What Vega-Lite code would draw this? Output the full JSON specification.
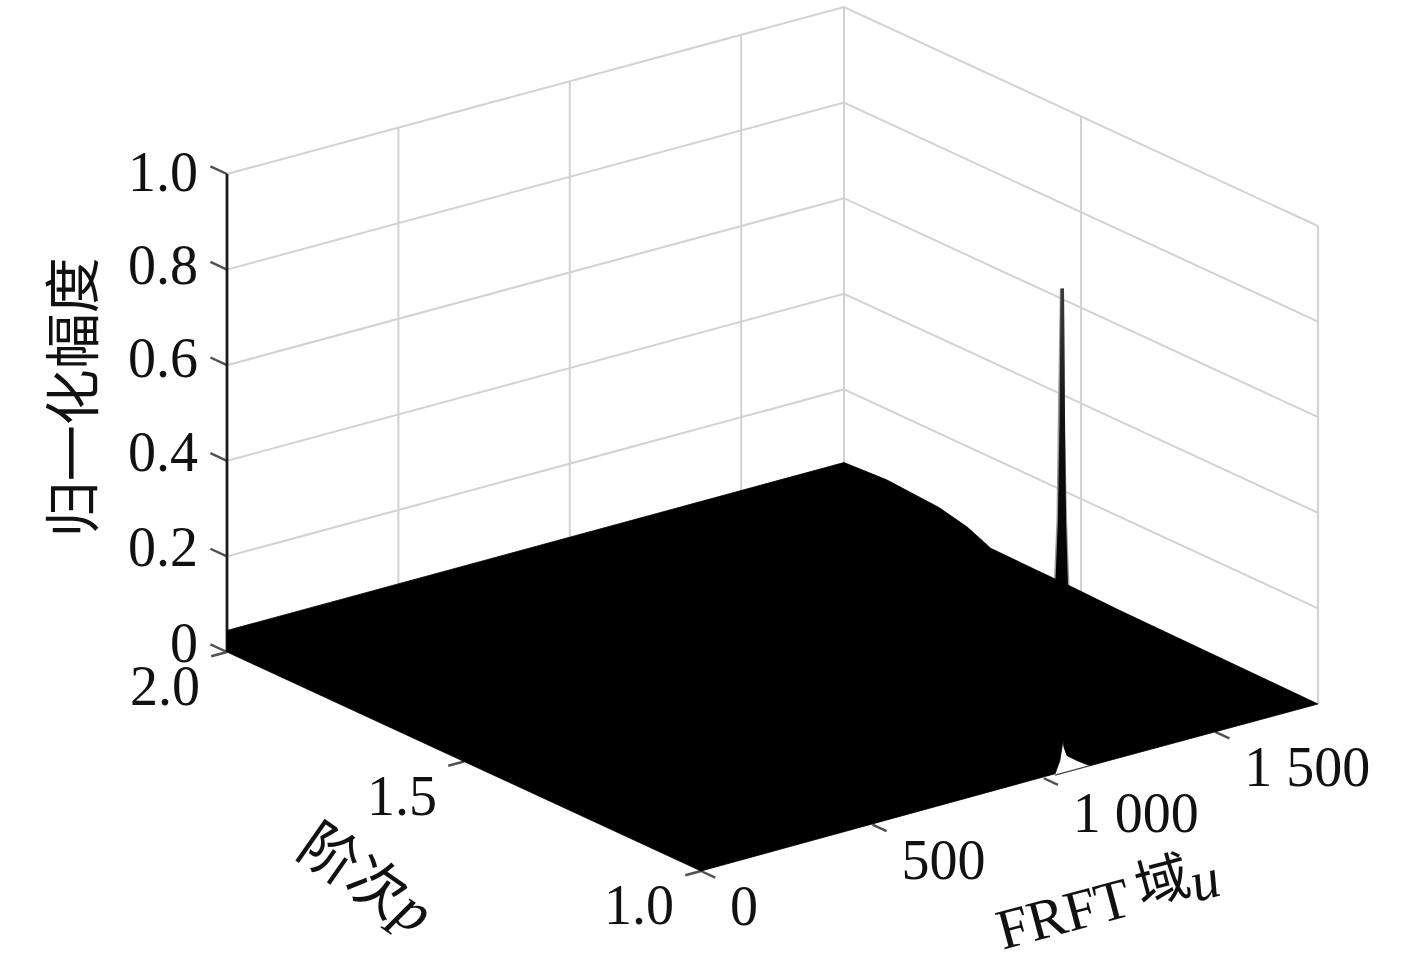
{"$schema":"https://vega.github.io/schema/vega-lite/v6.json","width":1417,"height":966,"autosize":{"type":"fit","contains":"padding"},"padding":0,"background":"white","view":{"stroke":null},
"data":{"values":[
{"part":"grid","id":"z0.2","seq":1,"u":0,"p":2,"z":0.2},{"part":"grid","id":"z0.2","seq":2,"u":1800,"p":2,"z":0.2},{"part":"grid","id":"z0.2","seq":3,"u":1800,"p":1,"z":0.2},
{"part":"grid","id":"z0.4","seq":1,"u":0,"p":2,"z":0.4},{"part":"grid","id":"z0.4","seq":2,"u":1800,"p":2,"z":0.4},{"part":"grid","id":"z0.4","seq":3,"u":1800,"p":1,"z":0.4},
{"part":"grid","id":"z0.6","seq":1,"u":0,"p":2,"z":0.6},{"part":"grid","id":"z0.6","seq":2,"u":1800,"p":2,"z":0.6},{"part":"grid","id":"z0.6","seq":3,"u":1800,"p":1,"z":0.6},
{"part":"grid","id":"z0.8","seq":1,"u":0,"p":2,"z":0.8},{"part":"grid","id":"z0.8","seq":2,"u":1800,"p":2,"z":0.8},{"part":"grid","id":"z0.8","seq":3,"u":1800,"p":1,"z":0.8},
{"part":"grid","id":"z1.0","seq":1,"u":0,"p":2,"z":1},{"part":"grid","id":"z1.0","seq":2,"u":1800,"p":2,"z":1},{"part":"grid","id":"z1.0","seq":3,"u":1800,"p":1,"z":1},
{"part":"grid","id":"u500","seq":1,"u":500,"p":2,"z":0},{"part":"grid","id":"u500","seq":2,"u":500,"p":2,"z":1},
{"part":"grid","id":"u1000","seq":1,"u":1000,"p":2,"z":0},{"part":"grid","id":"u1000","seq":2,"u":1000,"p":2,"z":1},
{"part":"grid","id":"u1500","seq":1,"u":1500,"p":2,"z":0},{"part":"grid","id":"u1500","seq":2,"u":1500,"p":2,"z":1},
{"part":"grid","id":"u1800","seq":1,"u":1800,"p":2,"z":0},{"part":"grid","id":"u1800","seq":2,"u":1800,"p":2,"z":1},
{"part":"grid","id":"p1.5","seq":1,"u":1800,"p":1.5,"z":0},{"part":"grid","id":"p1.5","seq":2,"u":1800,"p":1.5,"z":1},
{"part":"grid","id":"p1.0","seq":1,"u":1800,"p":1,"z":0},{"part":"grid","id":"p1.0","seq":2,"u":1800,"p":1,"z":1},
{"part":"axis","id":"zaxis","seq":1,"u":0,"p":2,"z":0},{"part":"axis","id":"zaxis","seq":2,"u":0,"p":2,"z":1},
{"part":"tick","id":"tz0","seq":1,"u":0,"p":2,"z":0},{"part":"tick","id":"tz0","seq":2,"u":0,"p":2.035,"z":0},
{"part":"tick","id":"tz2","seq":1,"u":0,"p":2,"z":0.2},{"part":"tick","id":"tz2","seq":2,"u":0,"p":2.035,"z":0.2},
{"part":"tick","id":"tz4","seq":1,"u":0,"p":2,"z":0.4},{"part":"tick","id":"tz4","seq":2,"u":0,"p":2.035,"z":0.4},
{"part":"tick","id":"tz6","seq":1,"u":0,"p":2,"z":0.6},{"part":"tick","id":"tz6","seq":2,"u":0,"p":2.035,"z":0.6},
{"part":"tick","id":"tz8","seq":1,"u":0,"p":2,"z":0.8},{"part":"tick","id":"tz8","seq":2,"u":0,"p":2.035,"z":0.8},
{"part":"tick","id":"tz10","seq":1,"u":0,"p":2,"z":1},{"part":"tick","id":"tz10","seq":2,"u":0,"p":2.035,"z":1},
{"part":"tick","id":"tp20","seq":1,"u":0,"p":2,"z":0},{"part":"tick","id":"tp20","seq":2,"u":-46,"p":2,"z":0},
{"part":"tick","id":"tp15","seq":1,"u":0,"p":1.5,"z":0},{"part":"tick","id":"tp15","seq":2,"u":-46,"p":1.5,"z":0},
{"part":"tick","id":"tp10","seq":1,"u":0,"p":1,"z":0},{"part":"tick","id":"tp10","seq":2,"u":-46,"p":1,"z":0},
{"part":"tick","id":"tu0","seq":1,"u":0,"p":1,"z":0},{"part":"tick","id":"tu0","seq":2,"u":0,"p":0.97,"z":0},
{"part":"tick","id":"tu500","seq":1,"u":500,"p":1,"z":0},{"part":"tick","id":"tu500","seq":2,"u":500,"p":0.97,"z":0},
{"part":"tick","id":"tu1000","seq":1,"u":1000,"p":1,"z":0},{"part":"tick","id":"tu1000","seq":2,"u":1000,"p":0.97,"z":0},
{"part":"tick","id":"tu1500","seq":1,"u":1500,"p":1,"z":0},{"part":"tick","id":"tu1500","seq":2,"u":1500,"p":0.97,"z":0},
{"part":"floor","seq":1,"u":0,"p":2,"z":0},{"part":"floor","seq":2,"u":0,"p":2,"z":0.045},{"part":"floor","seq":3,"u":1800,"p":2,"z":0.047},
{"part":"floor","seq":4,"u":1800,"p":1.91,"z":0.052},{"part":"floor","seq":5,"u":1800,"p":1.8,"z":0.0448},{"part":"floor","seq":6,"u":1800,"p":1.74,"z":0.031},
{"part":"floor","seq":7,"u":1800,"p":1.69,"z":0.0094},{"part":"floor","seq":8,"u":1800,"p":1.59,"z":0.0077},{"part":"floor","seq":9,"u":1800,"p":1.56,"z":0.0075},
{"part":"floor","seq":10,"u":1800,"p":1.52,"z":0.007},{"part":"floor","seq":11,"u":1800,"p":1.42,"z":0.004},{"part":"floor","seq":12,"u":1800,"p":1,"z":0},
{"part":"floor","seq":13,"u":1135,"p":1,"z":0},{"part":"floor","seq":14,"u":1097,"p":1,"z":0.018},{"part":"floor","seq":15,"u":1068,"p":1,"z":0.034},
{"part":"floor","seq":16,"u":1059,"p":1,"z":0.053},{"part":"floor","seq":17,"u":1056,"p":1,"z":0.068},{"part":"floor","seq":18,"u":1047,"p":1,"z":0.028},
{"part":"floor","seq":19,"u":1033,"p":1,"z":0.003},{"part":"floor","seq":20,"u":0,"p":1,"z":0},
{"part":"front","id":"notch","seq":1,"u":1033,"p":1,"z":0},{"part":"front","id":"notch","seq":2,"u":1135,"p":1,"z":0},
{"part":"fringe","seq":1,"u":1030,"p":1,"z":0.412},{"part":"fringe","seq":2,"u":1037,"p":1,"z":0.532},{"part":"fringe","seq":3,"u":1041,"p":1,"z":0.749},{"part":"fringe","seq":4,"u":1047,"p":1,"z":1.015},
{"part":"fringe","seq":5,"u":1059,"p":1,"z":1.013},{"part":"fringe","seq":6,"u":1062,"p":1,"z":0.71},{"part":"fringe","seq":7,"u":1068,"p":1,"z":0.526},{"part":"fringe","seq":8,"u":1075,"p":1,"z":0.384},
{"part":"core","seq":1,"u":1033,"p":1,"z":0.386},{"part":"core","seq":2,"u":1041,"p":1,"z":0.531},{"part":"core","seq":3,"u":1046,"p":1,"z":0.739},{"part":"core","seq":4,"u":1049,"p":1,"z":1.015},
{"part":"core","seq":5,"u":1059,"p":1,"z":1.013},{"part":"core","seq":6,"u":1062,"p":1,"z":0.736},{"part":"core","seq":7,"u":1065,"p":1,"z":0.526},{"part":"core","seq":8,"u":1071,"p":1,"z":0.379},
{"part":"zlabel","u":0,"p":2,"z":1.004,"label":"1.0"},{"part":"zlabel","u":0,"p":2,"z":0.81,"label":"0.8"},{"part":"zlabel","u":0,"p":2,"z":0.615,"label":"0.6"},{"part":"zlabel","u":0,"p":2,"z":0.418,"label":"0.4"},{"part":"zlabel","u":0,"p":2,"z":0.22,"label":"0.2"},{"part":"zlabel","u":0,"p":2,"z":0.019,"label":"0"},
{"part":"plabel","u":0,"p":2,"z":0,"label":"2.0"},{"part":"plabel","u":0,"p":1.5,"z":0,"label":"1.5"},{"part":"plabel","u":0,"p":1,"z":0,"label":"1.0"},
{"part":"ulabel","u":0,"p":1,"z":0,"label":"0"},{"part":"ulabel","u":500,"p":1,"z":0,"label":"500"},{"part":"ulabel","u":1000,"p":1,"z":0,"label":"1 000"},{"part":"ulabel","u":1500,"p":1,"z":0,"label":"1 500"},
{"part":"ztitle","u":0,"p":2,"z":0.533,"label":"归一化幅度"},
{"part":"ptitle","u":0,"p":1.5,"z":0,"label":"阶次"},{"part":"ptitlevar","u":0,"p":1.5,"z":0,"label":"p"},
{"part":"utitle","u":1000,"p":1,"z":0,"label":"FRFT"},{"part":"utitlecjk","u":1000,"p":1,"z":0,"label":"域"},{"part":"utitlevar","u":1000,"p":1,"z":0,"label":"u"}
]},
"transform":[
{"calculate":"227+617*datum.u/1800+474*(2-datum.p)","as":"sx"},
{"calculate":"652-167*datum.u/1800+219*(2-datum.p)-478*datum.z","as":"sy"}
],
"encoding":{
"x":{"field":"sx","type":"quantitative","scale":{"domain":[0,1417],"nice":false,"zero":false},"axis":null},
"y":{"field":"sy","type":"quantitative","scale":{"domain":[966,0],"nice":false,"zero":false},"axis":null}
},
"layer":[
{"transform":[{"filter":"datum.part=='grid'"}],"mark":{"type":"line","stroke":"#d2d2d2","strokeWidth":2},"encoding":{"detail":{"field":"id"},"order":{"field":"seq","type":"quantitative"}}},
{"transform":[{"filter":"datum.part=='tick'"}],"mark":{"type":"line","stroke":"#505050","strokeWidth":2.4},"encoding":{"detail":{"field":"id"},"order":{"field":"seq","type":"quantitative"}}},
{"transform":[{"filter":"datum.part=='axis'"}],"mark":{"type":"line","stroke":"#1c1c1c","strokeWidth":2.8},"encoding":{"detail":{"field":"id"},"order":{"field":"seq","type":"quantitative"}}},
{"transform":[{"filter":"datum.part=='fringe'"}],"mark":{"type":"line","fill":"#9a9a9a","stroke":null,"interpolate":"linear-closed"},"encoding":{"order":{"field":"seq","type":"quantitative"}}},
{"transform":[{"filter":"datum.part=='core'"}],"mark":{"type":"line","fill":{"gradient":"linear","x1":0,"y1":0,"x2":0,"y2":1,"stops":[{"offset":0,"color":"#3c3c3c"},{"offset":0.45,"color":"#111111"},{"offset":1,"color":"#000000"}]},"stroke":null,"interpolate":"linear-closed"},"encoding":{"order":{"field":"seq","type":"quantitative"}}},
{"transform":[{"filter":"datum.part=='floor'"}],"mark":{"type":"line","fill":"#000000","stroke":"#000000","strokeWidth":0.8,"interpolate":"linear-closed"},"encoding":{"order":{"field":"seq","type":"quantitative"}}},
{"transform":[{"filter":"datum.part=='front'"}],"mark":{"type":"line","stroke":"#444444","strokeWidth":1.2},"encoding":{"detail":{"field":"id"},"order":{"field":"seq","type":"quantitative"}}},
{"transform":[{"filter":"datum.part=='zlabel'"}],"mark":{"type":"text","font":"Liberation Serif","fontSize":56,"align":"right","baseline":"middle","dx":-29,"dy":2,"fill":"#111111"},"encoding":{"text":{"field":"label"}}},
{"transform":[{"filter":"datum.part=='plabel'"}],"mark":{"type":"text","font":"Liberation Serif","fontSize":56,"align":"right","baseline":"middle","dx":-27,"dy":36,"fill":"#111111"},"encoding":{"text":{"field":"label"}}},
{"transform":[{"filter":"datum.part=='ulabel'"}],"mark":{"type":"text","font":"Liberation Serif","fontSize":56,"align":"left","baseline":"middle","dx":29,"dy":37,"fill":"#111111"},"encoding":{"text":{"field":"label"}}},
{"transform":[{"filter":"datum.part=='ztitle'"}],"mark":{"type":"text","font":"Noto Sans CJK SC","fontSize":56,"angle":270,"align":"center","baseline":"middle","dx":0,"dy":-151,"fill":"#111111"},"encoding":{"text":{"field":"label"}}},
{"transform":[{"filter":"datum.part=='ptitle'"}],"mark":{"type":"text","font":"Noto Sans CJK SC","fontSize":58,"angle":35,"align":"center","baseline":"middle","dx":-28,"dy":156,"fill":"#111111"},"encoding":{"text":{"field":"label"}}},
{"transform":[{"filter":"datum.part=='ptitlevar'"}],"mark":{"type":"text","font":"Liberation Serif","fontStyle":"italic","fontSize":60,"angle":35,"align":"center","baseline":"middle","dx":45,"dy":153,"fill":"#111111"},"encoding":{"text":{"field":"label"}}},
{"transform":[{"filter":"datum.part=='utitle'"}],"mark":{"type":"text","font":"Liberation Serif","fontSize":57,"angle":345,"align":"center","baseline":"middle","dx":-16,"dy":138,"fill":"#111111"},"encoding":{"text":{"field":"label"}}},
{"transform":[{"filter":"datum.part=='utitlecjk'"}],"mark":{"type":"text","font":"Noto Sans CJK SC","fontSize":54,"angle":345,"align":"center","baseline":"middle","dx":88,"dy":133,"fill":"#111111"},"encoding":{"text":{"field":"label"}}},
{"transform":[{"filter":"datum.part=='utitlevar'"}],"mark":{"type":"text","font":"Liberation Serif","fontStyle":"italic","fontSize":57,"angle":345,"align":"center","baseline":"middle","dx":129,"dy":142,"fill":"#111111"},"encoding":{"text":{"field":"label"}}}
]}
